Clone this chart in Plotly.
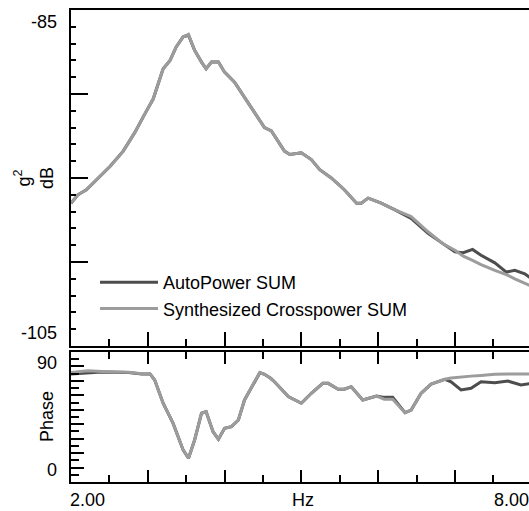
import plotly.graph_objects as go
from plotly.subplots import make_subplots

# ---- data ----
freq_top = [2.00, 2.09, 2.20, 2.35, 2.51, 2.68, 2.83, 2.96, 3.07, 3.20, 3.29, 3.37, 3.46, 3.53,
            3.61, 3.70, 3.76, 3.83, 3.92, 4.00, 4.13, 4.26, 4.44, 4.52, 4.61, 4.78, 4.85, 5.00,
            5.13, 5.24, 5.39, 5.56, 5.72, 5.78, 5.87, 6.04, 6.22, 6.43, 6.65, 6.84, 7.00, 7.11,
            7.23, 7.34, 7.52, 7.67, 7.78, 7.91, 8.00]
auto_db = [-96.5, -96.0, -95.7, -95.0, -94.3, -93.4, -92.3, -91.2, -90.3, -88.5, -88.0, -87.2, -86.6, -86.5,
           -87.4, -88.1, -88.5, -88.1, -88.1, -88.7, -89.3, -90.2, -91.5, -92.0, -92.2, -93.4, -93.6, -93.5,
           -93.9, -94.5, -95.0, -95.7, -96.5, -96.5, -96.2, -96.5, -96.9, -97.4, -98.3, -98.9, -99.4, -99.45,
           -99.25, -99.6, -100.05, -100.6, -100.5, -100.7, -101.0]
synth_db = [-96.5, -96.0, -95.7, -95.0, -94.3, -93.4, -92.3, -91.2, -90.3, -88.5, -88.0, -87.2, -86.6, -86.45,
            -87.4, -88.1, -88.5, -88.1, -88.1, -88.7, -89.3, -90.2, -91.5, -92.0, -92.2, -93.4, -93.6, -93.5,
            -93.9, -94.5, -95.0, -95.7, -96.5, -96.5, -96.2, -96.5, -96.9, -97.3, -98.2, -98.9, -99.3, -99.65,
            -99.9, -100.15, -100.5, -100.75, -101.0, -101.25, -101.45]

freq_ph = [2.00, 2.22, 2.40, 2.75, 2.92, 3.03, 3.09, 3.20, 3.33, 3.46, 3.53, 3.61, 3.70, 3.76, 3.85,
           3.92, 4.00, 4.09, 4.18, 4.26, 4.39, 4.46, 4.52, 4.60, 4.65, 4.83, 5.00, 5.13, 5.28, 5.35,
           5.48, 5.56, 5.65, 5.80, 5.98, 6.08, 6.19, 6.35, 6.43, 6.56, 6.69, 6.87, 6.95, 7.08, 7.21,
           7.34, 7.52, 7.69, 7.86, 8.00]
auto_ph = [74.8, 75.7, 76.2, 75.8, 74.8, 74.8, 70.6, 54.5, 40.6, 22.2, 16.4, 29.1, 47.6, 48.7, 34.8,
           29.6, 37.2, 38.3, 42.9, 56.8, 69.4, 75.7, 74.6, 71.8, 69.4, 59.1, 54.5, 61.4, 68.3, 68.3,
           64.2, 64.2, 66.0, 56.8, 59.5, 58.6, 58.6, 48.0, 49.8, 61.4, 67.8, 71.1, 69.4, 63.7, 64.9,
           69.4, 68.7, 69.9, 67.2, 68.3]
synth_ph = [75.8, 77.0, 76.5, 76.0, 75.0, 74.8, 70.6, 54.5, 40.6, 22.2, 16.4, 29.1, 47.6, 48.7, 34.8,
            29.6, 37.2, 38.3, 42.9, 56.8, 69.4, 75.7, 74.6, 71.8, 69.4, 59.1, 54.5, 61.4, 68.3, 68.3,
            64.2, 64.2, 66.0, 56.8, 59.5, 57.3, 57.3, 48.0, 49.8, 61.4, 67.8, 71.1, 72.0, 72.8, 73.3,
            73.8, 74.6, 74.8, 74.8, 74.8]

series_names = ["AutoPower SUM", "Synthesized Crosspower SUM"]
series_colors = ["#4d4d4d", "#9c9c9c"]

FONT = "Liberation Sans, Arial, sans-serif"
FS = 18

fig = make_subplots(rows=2, cols=1, shared_xaxes=False, vertical_spacing=0.0)

fig.add_trace(go.Scatter(x=freq_top, y=auto_db, mode="lines", name=series_names[0],
                         line=dict(color=series_colors[0], width=3), legendgroup="a"), row=1, col=1)
fig.add_trace(go.Scatter(x=freq_top, y=synth_db, mode="lines", name=series_names[1],
                         line=dict(color=series_colors[1], width=3), legendgroup="b"), row=1, col=1)
fig.add_trace(go.Scatter(x=freq_ph, y=auto_ph, mode="lines", showlegend=False,
                         line=dict(color=series_colors[0], width=3), legendgroup="a"), row=2, col=1)
fig.add_trace(go.Scatter(x=freq_ph, y=synth_ph, mode="lines", showlegend=False,
                         line=dict(color=series_colors[1], width=3), legendgroup="b"), row=2, col=1)

W, H = 529, 511
L, R, T, B = 71, 0, 10, 29
ph = H - T - B
top_dom = [(482 - 346) / ph, 1.0]
bot_dom = [0.0, (482 - 352) / ph]
xrange_ = [2, 7.965]

common_x = dict(range=xrange_, showline=True, linecolor="black", linewidth=2,
                showgrid=False, zeroline=False, showticklabels=False,
                ticks="inside", tickcolor="black", tickwidth=2, dtick=1, tick0=2)
fig.update_xaxes(**common_x, ticklen=14, mirror=True,
                 minor=dict(dtick=0.5, tick0=2, ticks="inside", ticklen=7, tickwidth=2, tickcolor="black"),
                 row=1, col=1)
fig.update_xaxes(**common_x, ticklen=12, mirror="ticks",
                 minor=dict(dtick=0.5, tick0=2, ticks="inside", ticklen=7, tickwidth=2, tickcolor="black"),
                 row=2, col=1)
fig.update_yaxes(range=[-105, -85], domain=top_dom, showline=True, linecolor="black", linewidth=2,
                 showgrid=False, zeroline=False, showticklabels=False,
                 ticks="inside", ticklen=17, tickwidth=2, tickcolor="black", dtick=5, tick0=-85,
                 minor=dict(dtick=1, ticks="inside", ticklen=5, tickwidth=2, tickcolor="black"),
                 row=1, col=1)
fig.update_yaxes(range=[0, 90], domain=bot_dom, showline=True, linecolor="black", linewidth=2,
                 showgrid=False, zeroline=False, showticklabels=False,
                 ticks="inside", ticklen=13, tickwidth=2, tickcolor="black", dtick=10, tick0=0,
                 minor=dict(dtick=5, ticks="inside", ticklen=8, tickwidth=2, tickcolor="black"),
                 row=2, col=1)

ann = []
tf = dict(family=FONT, size=FS, color="black")
# y tick labels at range ends, placed inside the range
for val, ref, shift in [(-85, "y", -12), (-105, "y", 13), (90, "y2", -11), (0, "y2", 12)]:
    ann.append(dict(text=str(val), xref="paper", x=0, xanchor="right", xshift=-12,
                    yref=ref, y=val, yanchor="middle", yshift=shift, showarrow=False, font=tf))
# x labels
ann.append(dict(text="2.00", xref="x2", x=2, xanchor="left", yref="paper", y=(482 - 500) / ph,
                yanchor="middle", showarrow=False, font=tf, xshift=-3))
ann.append(dict(text="8.00", xref="paper", x=1, xanchor="right", yref="paper", y=(482 - 500) / ph,
                yanchor="middle", showarrow=False, font=tf, xshift=2))
ann.append(dict(text="Hz", xref="paper", x=(303 - L) / (W - L - R), xanchor="center", yref="paper",
                y=(482 - 500) / ph, yanchor="middle", showarrow=False, font=tf))
# axis titles
ann.append(dict(text="g<sup>2</sup><br>dB", textangle=-90, xref="paper", x=(34 - L) / (W - L - R),
                xanchor="center", yref="paper", y=(482 - 178) / ph, yanchor="middle",
                showarrow=False, font=tf))
ann.append(dict(text="Phase", textangle=-90, xref="paper", x=(47 - L) / (W - L - R),
                xanchor="center", yref="paper", y=(482 - 417) / ph, yanchor="middle",
                showarrow=False, font=tf))

fig.update_layout(
    width=W, height=H, margin=dict(l=L, r=R, t=T, b=B),
    paper_bgcolor="white", plot_bgcolor="white",
    font=dict(family=FONT, size=FS, color="black"),
    annotations=ann,
    showlegend=True,
    legend=dict(x=(95 - L) / (W - L - R), xanchor="left", y=(482 - 264) / ph, yanchor="top",
                bgcolor="rgba(0,0,0,0)", borderwidth=0, font=tf, itemwidth=58,
                tracegroupgap=0),
)

# the page body has a default 8px margin; remove it so the figure sits at the window origin
fig.write_html("out.html", config={"displayModeBar": False},
               post_script="document.body.style.margin='0';")
